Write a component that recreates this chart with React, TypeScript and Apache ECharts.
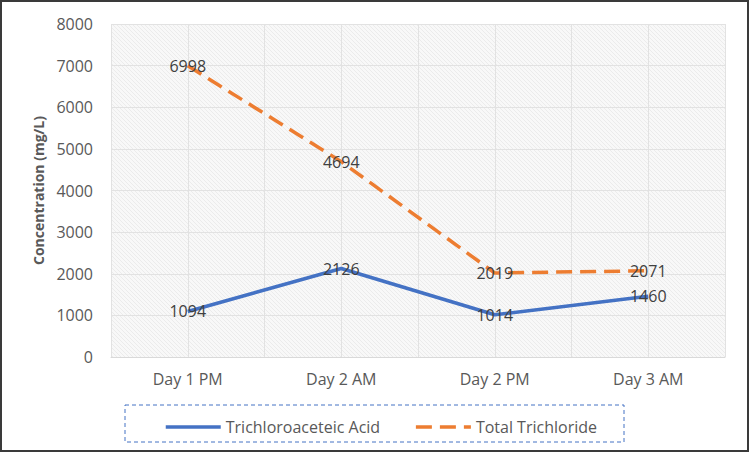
import React, { useEffect, useRef } from "react";
import * as echarts from "echarts";

const categories = ["Day 1 PM", "Day 2 AM", "Day 2 PM", "Day 3 AM"];
const trichloroaceticAcid = [1094, 2126, 1014, 1460];
const totalTrichloride = [6998, 4694, 2019, 2071];
const seriesNames = ["Trichloroaceteic Acid", "Total Trichloride"];
const yTicks = { min: 0, max: 8000, interval: 1000 };

function makeHatch(): string {
  const c = document.createElement("canvas");
  c.width = 4;
  c.height = 4;
  const ctx = c.getContext("2d");
  if (!ctx) return "";
  ctx.fillStyle = "#f8f8f8";
  ctx.fillRect(0, 0, 4, 4);
  ctx.fillStyle = "#ebebeb";
  for (let i = 0; i < 4; i++) ctx.fillRect(i, i, 1, 1);
  return c.toDataURL();
}

export default function App() {
  const ref = useRef<HTMLDivElement>(null);
  useEffect(() => {
    if (!ref.current) return;
    const chart = echarts.init(ref.current, undefined, { renderer: "svg" });
    const hatch = makeHatch();
    const font = "'Open Sans', sans-serif";
    const labelStyle = {
      show: true,
      position: "inside",
      color: "#404040",
      fontSize: 16,
      fontFamily: font,
    };
    chart.setOption({
      animation: false,
      textStyle: { fontFamily: font },
      grid: {
        left: 111,
        top: 24,
        right: 25,
        bottom: 97,
        show: true,
        borderWidth: 0,
        backgroundColor: hatch ? { image: hatch, repeat: "repeat" } : "#f3f3f3",
      },
      legend: {
        left: 159,
        top: 414,
        itemWidth: 55,
        itemHeight: 12,
        itemGap: 34,
        itemStyle: { opacity: 0 },
        lineStyle: { width: 3.5 },
        textStyle: { color: "#595959", fontSize: 16, fontFamily: font },
        data: seriesNames,
      },
      xAxis: {
        type: "value",
        min: -0.5,
        max: 3.5,
        interval: 0.5,
        axisLine: { show: true, lineStyle: { color: "#d9d9d9", width: 1 } },
        axisTick: { show: false },
        splitLine: { show: true, lineStyle: { color: "#e2e2e2", width: 1 } },
        axisLabel: {
          color: "#595959",
          fontSize: 16,
          fontFamily: font,
          margin: 14,
          showMinLabel: true,
          showMaxLabel: true,
          formatter: (v: number) =>
            Number.isInteger(v) && v >= 0 && v < categories.length ? categories[v] : "",
        },
      },
      yAxis: {
        type: "value",
        min: yTicks.min,
        max: yTicks.max,
        interval: yTicks.interval,
        name: "Concentration (mg/L)",
        nameLocation: "middle",
        nameGap: 62,
        nameTextStyle: { color: "#595959", fontSize: 14, fontWeight: "bold", fontFamily: font },
        axisLine: { show: false },
        axisTick: { show: false },
        splitLine: { show: true, lineStyle: { color: "#e2e2e2", width: 1 } },
        axisLabel: {
          color: "#595959",
          fontSize: 16,
          fontFamily: font,
          margin: 18,
          formatter: (v: number) => String(v),
        },
      },
      series: [
        {
          name: seriesNames[0],
          type: "line",
          data: categories.map((_, i) => [i, trichloroaceticAcid[i]]),
          symbol: "circle",
          symbolSize: 2,
          showSymbol: true,
          lineStyle: { color: "#4472C4", width: 3.5 },
          itemStyle: { color: "rgba(0,0,0,0)" },
          label: labelStyle,
          z: 3,
        },
        {
          name: seriesNames[1],
          type: "line",
          data: categories.map((_, i) => [i, totalTrichloride[i]]),
          symbol: "circle",
          symbolSize: 2,
          showSymbol: true,
          lineStyle: { color: "#ED7D31", width: 3.5, type: [16, 8] },
          itemStyle: { color: "rgba(0,0,0,0)" },
          label: labelStyle,
          z: 2,
        },
      ],
      graphic: [
        {
          type: "rect",
          shape: { x: 125, y: 405, width: 499, height: 37 },
          style: { fill: "none", stroke: "#4472C4", lineWidth: 1, lineDash: [4, 3] },
          silent: true,
        },
        {
          type: "rect",
          shape: { x: 1, y: 1, width: 747, height: 450 },
          style: { fill: "none", stroke: "#3a3a3a", lineWidth: 2 },
          silent: true,
        },
      ],
    });
    return () => chart.dispose();
  }, []);
  return (
    <div
      ref={ref}
      style={{ position: "fixed", left: 0, top: 0, width: 750, height: 454, background: "#fff" }}
    />
  );
}
